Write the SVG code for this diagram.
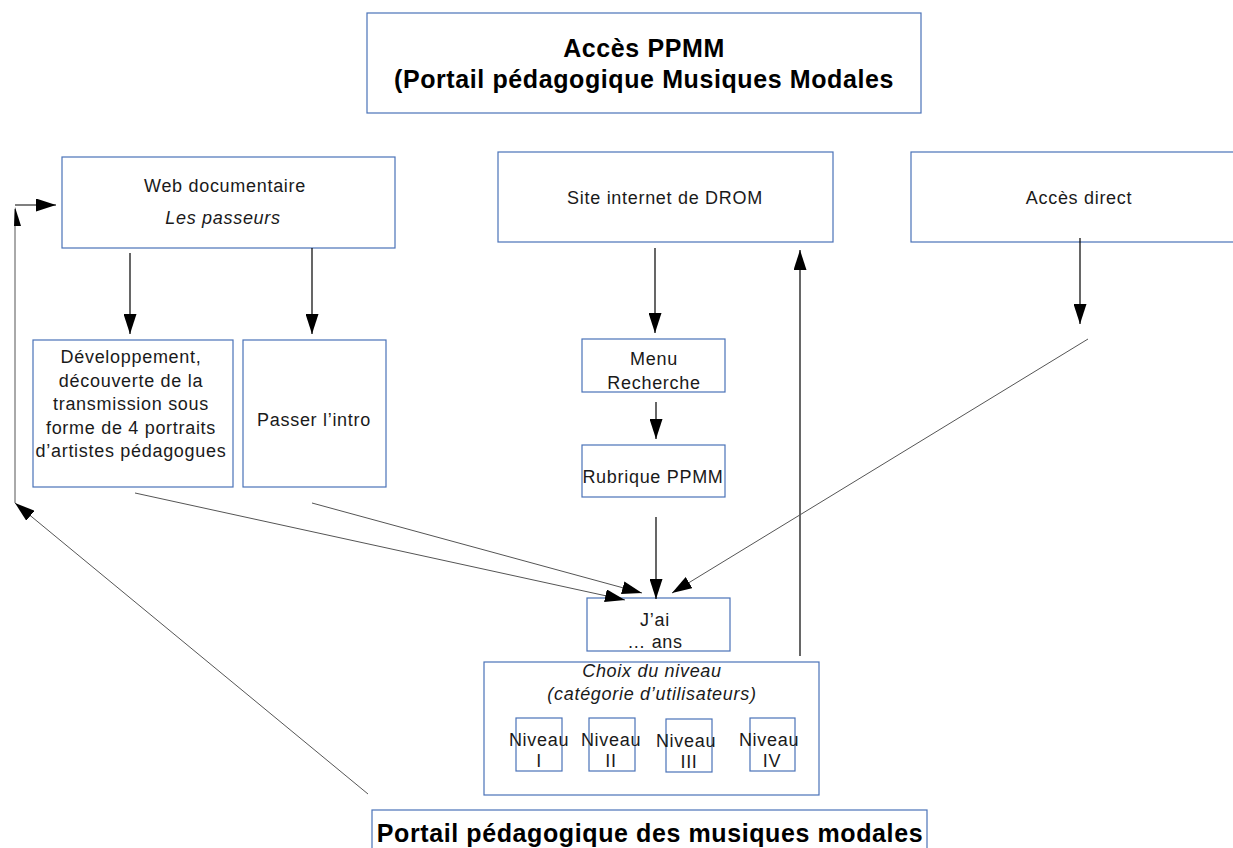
<svg xmlns="http://www.w3.org/2000/svg" width="1233" height="848" viewBox="0 0 1233 848">
<style>
.box{fill:#fff;stroke:#4a72b8;stroke-width:1.2}
.t{font-family:"Liberation Sans",Arial,sans-serif;font-size:18px;letter-spacing:0.7px;fill:#1a1a1a;text-anchor:middle}
.i{font-style:italic}
.b{font-family:"Liberation Sans",Arial,sans-serif;font-weight:bold;font-size:25px;letter-spacing:0.6px;fill:#000;text-anchor:middle}
.ln{fill:none;stroke:#000;stroke-width:1.2}
.gl{fill:none;stroke:#555;stroke-width:1}
</style>
<defs>
<marker id="ah" markerUnits="userSpaceOnUse" markerWidth="20" markerHeight="13" refX="20" refY="6.5" orient="auto">
<path d="M0,0 L20,6.5 L0,13 z" fill="#000"/>
</marker>
</defs>
<rect width="1233" height="848" fill="#fff"/>

<g id="titre">
<rect class="box" x="367" y="13" width="554" height="100"/>
<text class="b" x="644" y="57">Accès PPMM</text>
<text class="b" x="644" y="88">(Portail pédagogique Musiques Modales</text>
</g>

<g id="webdoc">
<rect class="box" x="62" y="157" width="333" height="91"/>
<text class="t" x="225" y="192">Web documentaire</text>
<text class="t i" x="223" y="224">Les passeurs</text>
</g>

<g id="developpement">
<rect class="box" x="33" y="340" width="200" height="147"/>
<text class="t" x="131" y="363">Développement,</text>
<text class="t" x="131" y="387">découverte de la</text>
<text class="t" x="131" y="410">transmission sous</text>
<text class="t" x="131" y="434">forme de 4 portraits</text>
<text class="t" x="131" y="457">d’artistes pédagogues</text>
</g>

<g id="passer">
<rect class="box" x="243" y="340" width="143" height="147"/>
<text class="t" x="314" y="426">Passer l’intro</text>
</g>

<g id="site">
<rect class="box" x="498" y="152" width="335" height="90"/>
<text class="t" x="665" y="204">Site internet de DROM</text>
</g>

<g id="acces-direct">
<rect class="box" x="911" y="152" width="340" height="90"/>
<text class="t" x="1079" y="204">Accès direct</text>
</g>

<g id="menu">
<rect class="box" x="582" y="339" width="143" height="53"/>
<text class="t" x="654" y="365">Menu</text>
<text class="t" x="654" y="389">Recherche</text>
</g>

<g id="rubrique">
<rect class="box" x="582" y="445" width="143" height="52"/>
<text class="t" x="653" y="483">Rubrique PPMM</text>
</g>

<g id="jai">
<rect class="box" x="587" y="598" width="143" height="53"/>
<text class="t" x="655" y="626">J’ai</text>
<text class="t" x="655" y="648">… ans</text>
</g>

<g id="choix">
<rect class="box" x="484" y="662" width="335" height="133"/>
<text class="t i" x="652" y="677">Choix du niveau</text>
<text class="t i" x="652" y="700">(catégorie d’utilisateurs)</text>
</g>

<g id="niveau1">
<rect class="box" x="516" y="718" width="46" height="53"/>
<text class="t" x="539" y="746">Niveau</text>
<text class="t" x="539" y="767">I</text>
</g>
<g id="niveau2">
<rect class="box" x="589" y="718" width="46" height="53"/>
<text class="t" x="611" y="746">Niveau</text>
<text class="t" x="611" y="767">II</text>
</g>
<g id="niveau3">
<rect class="box" x="666" y="719" width="46" height="53"/>
<text class="t" x="686" y="747">Niveau</text>
<text class="t" x="689" y="768">III</text>
</g>
<g id="niveau4">
<rect class="box" x="750" y="718" width="45" height="53"/>
<text class="t" x="769" y="746">Niveau</text>
<text class="t" x="772" y="767">IV</text>
</g>

<g id="portail">
<rect class="box" x="372" y="810" width="555" height="50"/>
<text class="b" x="650" y="842">Portail pédagogique des musiques modales</text>
</g>

<g id="connecteurs">
<line class="ln" x1="130" y1="253" x2="130" y2="334" marker-end="url(#ah)"/>
<line class="ln" x1="312" y1="248" x2="312" y2="334" marker-end="url(#ah)"/>
<line class="ln" x1="655" y1="248" x2="655" y2="333" marker-end="url(#ah)"/>
<line class="ln" x1="656" y1="402" x2="656" y2="439" marker-end="url(#ah)"/>
<line class="ln" x1="656" y1="517" x2="656" y2="599" marker-end="url(#ah)"/>
<line class="ln" x1="1080" y1="238" x2="1080" y2="324" marker-end="url(#ah)"/>
<line class="ln" x1="800" y1="656" x2="800" y2="250" marker-end="url(#ah)"/>
<line class="gl" x1="135" y1="493" x2="625" y2="600" marker-end="url(#ah)"/>
<line class="gl" x1="312" y1="503" x2="642" y2="593" marker-end="url(#ah)"/>
<line class="gl" x1="1088" y1="339" x2="672" y2="593" marker-end="url(#ah)"/>
<line class="gl" x1="368" y1="794" x2="15" y2="503" marker-end="url(#ah)"/>
<line class="gl" x1="15" y1="503" x2="15" y2="209"/>
<polygon points="15,207 21,226 14,226" fill="#000"/>
<line class="ln" x1="15" y1="205" x2="56" y2="205" marker-end="url(#ah)"/>
</g>
</svg>
